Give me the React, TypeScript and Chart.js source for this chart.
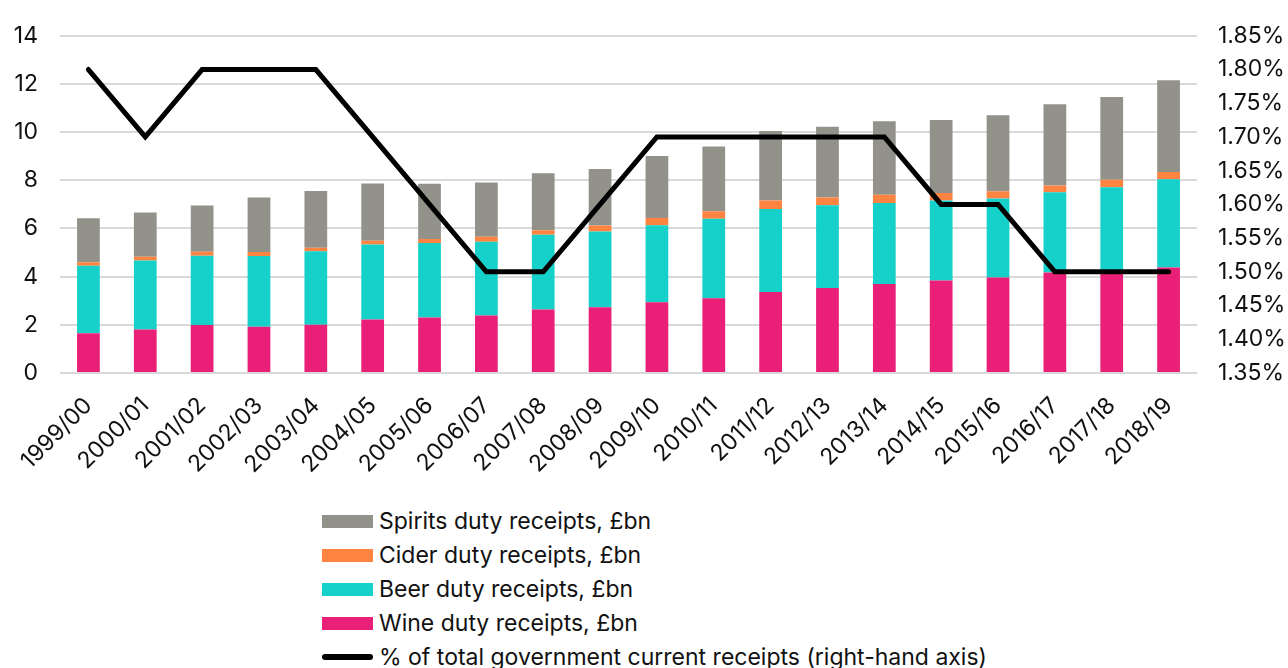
import React, { useEffect, useRef } from "react";
import { Chart, registerables } from "chart.js";

Chart.register(...registerables);

const categories = [
  "1999/00", "2000/01", "2001/02", "2002/03", "2003/04", "2004/05", "2005/06",
  "2006/07", "2007/08", "2008/09", "2009/10", "2010/11", "2011/12", "2012/13",
  "2013/14", "2014/15", "2015/16", "2016/17", "2017/18", "2018/19",
];

const wine = [1.65, 1.81, 1.99, 1.92, 2.0, 2.22, 2.3, 2.39, 2.64, 2.73, 2.94, 3.1, 3.36, 3.53, 3.69, 3.84, 3.97, 4.17, 4.28, 4.38];
const beer = [2.8, 2.86, 2.88, 2.94, 3.05, 3.11, 3.1, 3.06, 3.1, 3.14, 3.19, 3.3, 3.45, 3.43, 3.37, 3.32, 3.28, 3.33, 3.43, 3.66];
const cider = [0.15, 0.16, 0.16, 0.16, 0.15, 0.16, 0.16, 0.21, 0.19, 0.25, 0.31, 0.32, 0.35, 0.33, 0.34, 0.31, 0.3, 0.28, 0.31, 0.31];
const spirits = [1.83, 1.83, 1.92, 2.27, 2.36, 2.38, 2.3, 2.25, 2.36, 2.35, 2.57, 2.68, 2.89, 2.93, 3.05, 3.03, 3.15, 3.38, 3.44, 3.8];
const shareOfReceipts = [1.8, 1.7, 1.8, 1.8, 1.8, 1.7, 1.6, 1.5, 1.5, 1.6, 1.7, 1.7, 1.7, 1.7, 1.7, 1.6, 1.6, 1.5, 1.5, 1.5];

const leftTicks = { min: 0, max: 14, step: 2 };
const rightTicks = { min: 1.35, max: 1.85, step: 0.05 };

const COLORS = {
  spirits: "#92928a",
  cider: "#ff8442",
  beer: "#16d1c9",
  wine: "#e91f78",
  line: "#000000",
};

const legendItems = [
  { label: "Spirits duty receipts, £bn", color: COLORS.spirits, kind: "box" },
  { label: "Cider duty receipts, £bn", color: COLORS.cider, kind: "box" },
  { label: "Beer duty receipts, £bn", color: COLORS.beer, kind: "box" },
  { label: "Wine duty receipts, £bn", color: COLORS.wine, kind: "box" },
  { label: "% of total government current receipts (right-hand axis)", color: COLORS.line, kind: "line" },
];

const FONT = "Inter, 'DejaVu Sans', sans-serif";
const FS = 23;
const W = 1288;
const CH = 480;

export default function App() {
  const ref = useRef<HTMLCanvasElement | null>(null);

  useEffect(() => {
    if (!ref.current) return;
    const barCommon = {
      type: "bar" as const,
      yAxisID: "y",
      stack: "s",
      borderWidth: 0,
      categoryPercentage: 0.8,
      barPercentage: 0.5,
      order: 2,
    };
    const chart = new Chart(ref.current, {
      type: "bar",
      data: {
        labels: categories,
        datasets: [
          { ...barCommon, label: "Wine duty receipts, £bn", data: wine, backgroundColor: COLORS.wine },
          { ...barCommon, label: "Beer duty receipts, £bn", data: beer, backgroundColor: COLORS.beer },
          { ...barCommon, label: "Cider duty receipts, £bn", data: cider, backgroundColor: COLORS.cider },
          { ...barCommon, label: "Spirits duty receipts, £bn", data: spirits, backgroundColor: COLORS.spirits },
          {
            type: "line" as const,
            label: "% of total government current receipts (right-hand axis)",
            data: shareOfReceipts,
            yAxisID: "y1",
            borderColor: COLORS.line,
            borderWidth: 5,
            pointRadius: 0,
            tension: 0,
            borderCapStyle: "round",
            borderJoinStyle: "miter",
            order: 1,
          } as any,
        ],
      },
      options: {
        animation: false,
        responsive: true,
        maintainAspectRatio: false,
        layout: { padding: { top: 28, left: 0, right: 0, bottom: 0 } },
        plugins: {
          legend: { display: false },
          tooltip: { enabled: false },
        },
        scales: {
          x: {
            stacked: true,
            grid: { display: false, drawTicks: false },
            border: { display: false },
            ticks: {
              minRotation: 45,
              maxRotation: 45,
              padding: 19,
              color: "#111",
              font: { family: FONT, size: FS },
            },
            afterFit: (s: any) => {
              s.height = CH - 373;
            },
          },
          y: {
            stacked: true,
            position: "left",
            min: leftTicks.min,
            max: leftTicks.max,
            ticks: {
              stepSize: leftTicks.step,
              padding: 22,
              color: "#111",
              font: { family: FONT, size: FS },
            },
            grid: { color: "#d9d9d9", lineWidth: 2, drawTicks: false },
            border: { display: false },
            afterFit: (s: any) => {
              s.width = 60;
            },
          },
          y1: {
            position: "right",
            min: rightTicks.min,
            max: rightTicks.max,
            ticks: {
              stepSize: rightTicks.step,
              padding: 21,
              color: "#111",
              font: { family: FONT, size: FS },
              callback: (v: any) => Number(v).toFixed(2) + "%",
            },
            grid: { display: false, drawTicks: false },
            border: { display: false },
            afterFit: (s: any) => {
              s.width = W - 1197;
            },
          },
        },
      },
    });
    return () => chart.destroy();
  }, []);

  return (
    <div style={{ position: "absolute", left: 0, top: 0, width: W, height: 668, background: "#fff" }}>
      <div style={{ position: "absolute", left: 0, top: 0, width: W, height: CH }}>
        <canvas ref={ref} />
      </div>
      <div style={{ position: "absolute", left: 322, top: 504 }}>
        {legendItems.map((it) => (
          <div
            key={it.label}
            style={{ display: "flex", alignItems: "center", height: 34, fontFamily: FONT, fontSize: FS, color: "#111", whiteSpace: "nowrap" }}
          >
            {it.kind === "box" ? (
              <span style={{ display: "inline-block", width: 51, height: 13, background: it.color }} />
            ) : (
              <span style={{ display: "inline-block", width: 51, height: 6, borderRadius: 3, background: it.color }} />
            )}
            <span style={{ marginLeft: 6 }}>{it.label}</span>
          </div>
        ))}
      </div>
    </div>
  );
}
